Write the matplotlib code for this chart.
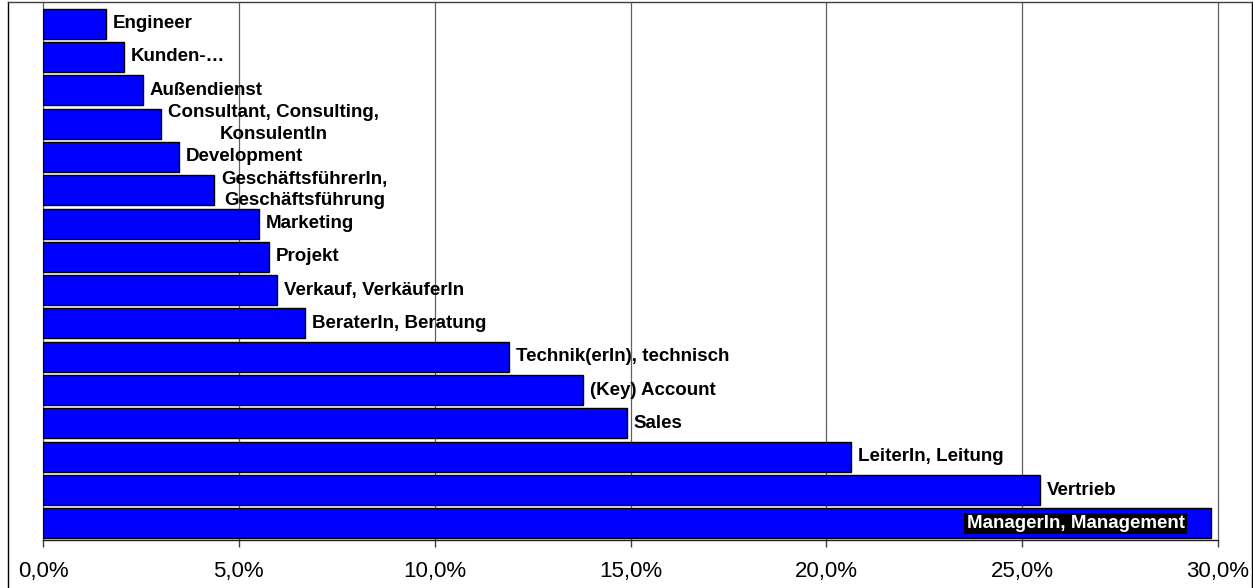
import matplotlib
matplotlib.use("Agg")
import matplotlib.pyplot as plt
from matplotlib.ticker import FuncFormatter, MultipleLocator
from matplotlib.lines import Line2D

categories = [
    "Engineer",
    "Kunden-…",
    "Außendienst",
    "Consultant, Consulting,\nKonsulentIn",
    "Development",
    "GeschäftsführerIn,\nGeschäftsführung",
    "Marketing",
    "Projekt",
    "Verkauf, VerkäuferIn",
    "BeraterIn, Beratung",
    "Technik(erIn), technisch",
    "(Key) Account",
    "Sales",
    "LeiterIn, Leitung",
    "Vertrieb",
    "ManagerIn, Management",
]
values = [1.6, 2.07, 2.55, 3.01, 3.47, 4.37, 5.51, 5.77, 5.97, 6.68,
          11.91, 13.78, 14.9, 20.64, 25.46, 29.82]

plt.rcParams['font.family'] = ['Liberation Sans', 'DejaVu Sans']

W, H = 1253, 588
fig = plt.figure(figsize=(W / 100, H / 100), dpi=100)
ax = fig.add_axes([43 / W, (H - 540) / H, (1218 - 43) / W, (540 - 3) / H])

n = len(categories)
cats_rev = categories[::-1]
vals_rev = values[::-1]
ypos = list(range(n))

ax.barh(ypos, vals_rev, height=0.9, color='#0000FF', edgecolor='black',
        linewidth=1.0, zorder=3)

for y, v, c in zip(ypos, vals_rev, cats_rev):
    if c.startswith("ManagerIn"):
        ax.annotate(c, xy=(v, y), xytext=(-19, 0), textcoords='offset points',
                    ha='right', va='center', fontsize=13.5, fontweight='bold',
                    color='white', zorder=5,
                    bbox=dict(boxstyle='square,pad=0.12', fc='black', ec='none'))
    else:
        ax.annotate(c, xy=(v, y), xytext=(5, 0), textcoords='offset points',
                    ha='left', va='center', fontsize=13.5, fontweight='bold',
                    color='black', multialignment='center', zorder=4,
                    linespacing=1.35)

ax.set_xlim(0, 30)
ax.set_ylim(-0.5, 15.62)
ax.xaxis.set_major_locator(MultipleLocator(5))
ax.xaxis.set_major_formatter(FuncFormatter(lambda x, p: f"{x:.1f}%".replace('.', ',')))
ax.set_yticks([])
ax.grid(axis='x', color='#606060', linewidth=0.9, zorder=0)
ax.set_axisbelow(True)
for gl in ax.get_xgridlines():
    gl.set_clip_on(False)
for s in ['left', 'right', 'top']:
    ax.spines[s].set_visible(False)
ax.spines['bottom'].set_color('#202020')
ax.spines['bottom'].set_linewidth(1.0)
ax.tick_params(axis='x', direction='out', length=5, width=1, color='#404040',
               labelsize=16, pad=10)

# outer chart frame
fig.add_artist(Line2D([7.5 / W, 7.5 / W], [0, (H - 2) / H], color='black', lw=1.0,
                      transform=fig.transFigure))
fig.add_artist(Line2D([1251.5 / W, 1251.5 / W], [0, (H - 2) / H], color='black', lw=1.0,
                      transform=fig.transFigure))
fig.add_artist(Line2D([7.5 / W, 1251.5 / W], [(H - 2) / H, (H - 2) / H], color='#404040',
                      lw=1.0, transform=fig.transFigure))

fig.savefig("out.png", dpi=100)
